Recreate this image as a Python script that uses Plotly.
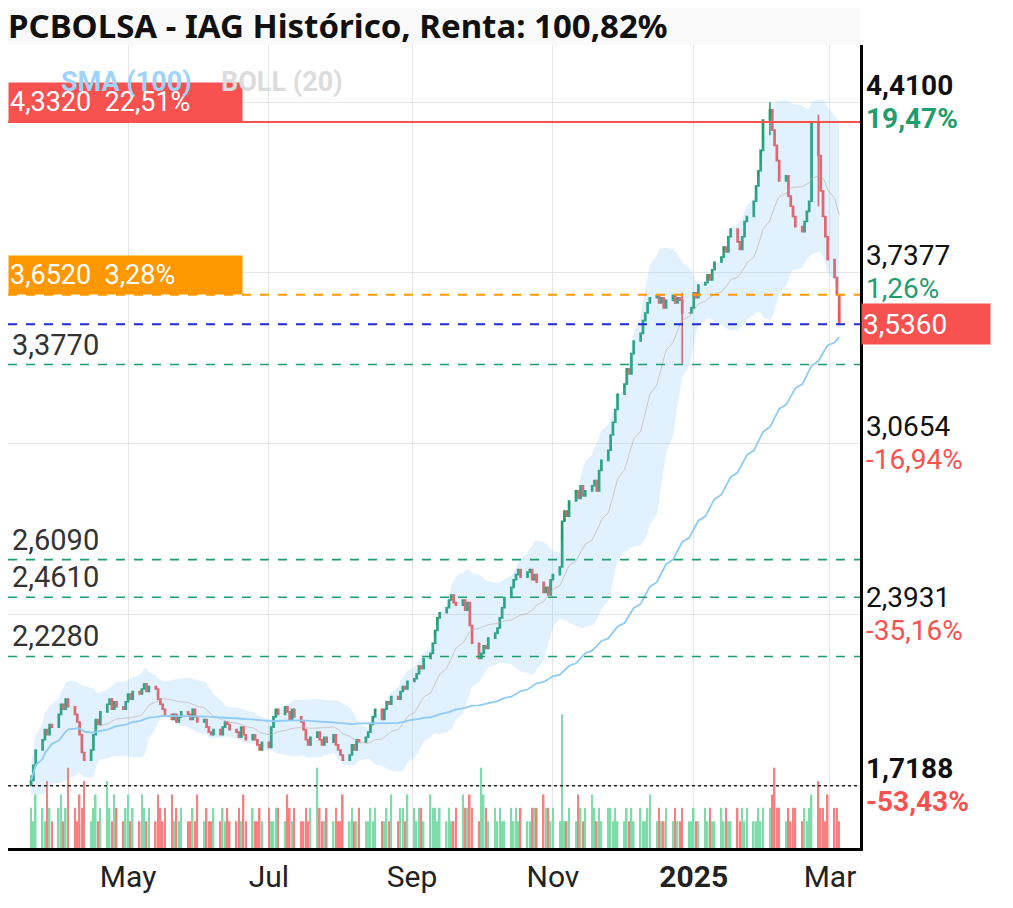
import pandas as pd
import plotly.graph_objects as go

# closes, one row per week (first row: Mar 20-22 2024)
closes = [
    1.74, 1.80, 1.86,
    1.90, 1.94, 1.92, 1.96, 1.95,
    2.00, 2.04, 2.02, 2.06, 2.03,
    2.00, 1.97, 1.92, 1.85, 1.82,
    1.86, 1.92, 1.98, 1.96, 2.01,
    2.04, 2.06, 2.02, 2.05, 2.03,
    2.02, 2.05, 2.08, 2.06, 2.09,
    2.08, 2.10, 2.12, 2.09, 2.11,
    2.10, 2.06, 2.04, 2.02, 2.00,
    1.98, 2.00, 1.97, 1.99, 2.01,
    2.00, 1.98, 2.02, 1.99, 1.97,
    1.98, 1.95, 1.93, 1.92, 1.94,
    1.92, 1.95, 1.97, 1.96, 1.94,
    1.93, 1.91, 1.95, 1.92, 1.90,
    1.92, 1.90, 1.88, 1.86, 1.89,
    1.87, 1.95, 1.99, 2.02, 2.00,
    2.03, 2.01, 1.98, 2.02, 1.99,
    1.97, 1.94, 1.90, 1.88, 1.91,
    1.93, 1.90, 1.88, 1.91, 1.89,
    1.92, 1.88, 1.86, 1.84, 1.82,
    1.84, 1.88, 1.86, 1.90, 1.89,
    1.91, 1.93, 1.96, 1.99, 2.02,
    1.98, 2.02, 2.05, 2.04, 2.07,
    2.06, 2.09, 2.11, 2.10, 2.13,
    2.14, 2.16, 2.19, 2.18, 2.22,
    2.24, 2.28, 2.33, 2.38, 2.40,
    2.42, 2.45, 2.47, 2.44, 2.43,
    2.45, 2.41, 2.44, 2.35, 2.28,
    2.22, 2.24, 2.27, 2.26, 2.30,
    2.32, 2.34, 2.38, 2.42, 2.46,
    2.50, 2.53, 2.55, 2.57, 2.54,
    2.56, 2.57, 2.53, 2.55, 2.52,
    2.48, 2.50, 2.47, 2.53, 2.55,
    2.58, 2.76, 2.80, 2.78, 2.84,
    2.88, 2.85, 2.90, 2.86, 2.88,
    2.90, 2.92, 2.88, 2.96, 3.00,
    3.04, 3.10, 3.15, 3.20, 3.26,
    3.30, 3.36, 3.34, 3.42, 3.47,
    3.50, 3.55, 3.58, 3.62, 3.64,
    3.65, 3.62, 3.64, 3.60, 3.63,
    3.65, 3.62, 3.64, 3.63, 3.58,
    3.58, 3.60, 3.66, 3.64, 3.69,
    3.70, 3.73, 3.71, 3.75, 3.78,
    3.80, 3.84, 3.82, 3.88, 3.91,
    3.86, 3.83, 3.88, 3.94, 3.96,
    4.02, 4.08, 4.14, 4.22, 4.34,
    4.38, 4.30, 4.24, 4.18, 4.10,
    4.12, 4.04, 4.00, 3.96, 3.92,
    3.90, 3.94, 3.98, 4.02, 4.33,
    4.20, 4.06, 3.96, 3.88, 3.79,
    3.72, 3.652, 3.536,
]
first_open = 1.72
# hand-read wicks: index -> (high, low)
wicks = {0: (1.76, 1.7188), 202: (3.66, 3.377), 228: (4.41, 4.28), 243: (4.36, 4.00)}

volumes = [
    3, 2, 4, 3, 2, 5, 3, 2, 3, 4, 2, 3, 6, 3, 2, 4, 3, 5, 2, 3,
    4, 2, 3, 5, 3, 2, 4, 3, 2, 3, 4, 2, 3, 2, 4, 3, 2, 3, 2, 4,
    3, 2, 3, 4, 2, 3, 2, 3, 2, 2, 3, 2, 4, 2, 3, 2, 2, 3, 2, 3,
    2, 3, 2, 2, 3, 2, 4, 2, 3, 2, 2, 3, 2, 3, 2, 2, 3, 3, 2, 4,
    3, 2, 3, 2, 2, 3, 2, 3, 6, 3, 2, 2, 3, 2, 3, 2, 2, 4, 2, 3,
    2, 2, 3, 2, 2, 3, 2, 3, 2, 2, 3, 2, 4, 2, 3, 3, 2, 4, 3, 2,
    3, 3, 2, 4, 3, 3, 2, 3, 2, 3, 2, 2, 3, 4, 3, 3, 4, 3, 2, 6,
    4, 3, 2, 3, 2, 3, 2, 2, 3, 2, 3, 2, 3, 2, 2, 3, 3, 3, 4, 3,
    3, 2, 3, 2, 10, 2, 2, 3, 2, 4, 3, 2, 3, 4, 3, 2, 3, 2, 3, 3,
    2, 3, 2, 2, 3, 2, 3, 2, 3, 2, 2, 3, 4, 2, 3, 2, 2, 3, 2, 3,
    2, 2, 3, 2, 2, 3, 2, 2, 3, 2, 3, 2, 2, 3, 2, 3, 2, 2, 3, 2,
    3, 2, 3, 2, 2, 3, 2, 3, 3, 4, 6, 3, 3, 2, 3, 2, 3, 3, 2, 3,
    2, 3, 4, 5, 3, 3, 2, 4, 3, 3, 2,
]

dates = pd.bdate_range("2024-03-20", periods=len(closes))
df = pd.DataFrame({"date": dates, "close": closes})
df["open"] = df["close"].shift(1).fillna(first_open)
df["high"] = df[["open", "close"]].max(axis=1)
df["low"] = df[["open", "close"]].min(axis=1)
for i, (h, l) in wicks.items():
    df.loc[i, "high"] = h
    df.loc[i, "low"] = l
df["vol"] = volumes[:len(df)]

df["sma100"] = df["close"].rolling(100, min_periods=1).mean()
mid = df["close"].rolling(20, min_periods=1).mean()
sd = df["close"].rolling(20, min_periods=2).std().fillna(0.03)
df["bb_mid"], df["bb_up"], df["bb_lo"] = mid, mid + 2 * sd, mid - 2 * sd

GREEN, RED = "#1f9d6c", "#f7524f"
FS = 30
vol_colors = ["#7fdcaa" if c >= o else "#f88080" for o, c in zip(df["open"], df["close"])]

fig = go.Figure()
fig.add_trace(go.Bar(x=df["date"], y=df["vol"], marker_color=vol_colors, marker_line_width=0,
                     yaxis="y2", showlegend=False))
fig.add_trace(go.Scatter(x=df["date"], y=df["bb_up"], mode="lines", line=dict(width=0),
                         showlegend=False, hoverinfo="skip"))
fig.add_trace(go.Scatter(x=df["date"], y=df["bb_lo"], mode="lines", line=dict(width=0),
                         fill="tonexty", fillcolor="rgba(120,190,245,0.22)", showlegend=False, hoverinfo="skip"))
fig.add_trace(go.Scatter(x=df["date"], y=df["bb_mid"], mode="lines",
                         line=dict(color="rgba(190,170,160,0.6)", width=1), showlegend=False))
fig.add_trace(go.Scatter(x=df["date"], y=df["sma100"], mode="lines",
                         line=dict(color="#8ecbf5", width=1.8), showlegend=False))

levels = [(4.332, RED, "solid", 2), (3.652, "#ff9800", "dash", 2), (3.536, "#1f2ad8", "dash", 2),
          (3.377, GREEN, "dash", 1.6), (2.609, GREEN, "dash", 1.6), (2.461, GREEN, "dash", 1.6),
          (2.228, GREEN, "dash", 1.6), (1.7188, "#222222", "dot", 1.6)]
for val, col, dash, w in levels:
    fig.add_shape(type="line", xref="paper", x0=0, x1=1, y0=val, y1=val,
                  line=dict(color=col, dash=dash, width=w))

fig.add_trace(go.Candlestick(x=df["date"], open=df["open"], high=df["high"], low=df["low"],
                             close=df["close"], showlegend=False,
                             increasing=dict(line=dict(color=GREEN, width=1.6), fillcolor=GREEN),
                             decreasing=dict(line=dict(color=RED, width=1.6), fillcolor=RED)))

tick_vals = [4.41, 3.7377, 3.0654, 2.3931, 1.7188]
right_vals = ["<b>4,4100</b>", "3,7377", "3,0654", "2,3931", "<b>1,7188</b>"]
right_pcts = ["<b>19,47%</b>", "1,26%", "-16,94%", "-35,16%", "<b>-53,43%</b>"]
pct_cols = [GREEN, GREEN, RED, RED, RED]
for v, t, p, c in zip(tick_vals, right_vals, right_pcts, pct_cols):
    fig.add_annotation(x=1.0, xref="paper", y=v, yref="y", text=t, showarrow=False,
                       xanchor="left", xshift=4, yshift=17, font=dict(size=FS - 2, color="#111"))
    fig.add_annotation(x=1.0, xref="paper", y=v, yref="y", text=p, showarrow=False,
                       xanchor="left", xshift=4, yshift=-16, font=dict(size=FS - 2, color=c))
fig.add_annotation(x=1.0, xref="paper", y=3.536, yref="y", text="3,5360", showarrow=False,
                   xanchor="left", xshift=1, bgcolor=RED, width=126, height=38, align="left",
                   font=dict(size=FS - 2, color="white"))
fig.add_annotation(x=0, xref="paper", y=4.332, yref="y", text="4,3320  22,51%", showarrow=False,
                   xanchor="left", yanchor="bottom", bgcolor=RED, width=231, height=36, align="left",
                   font=dict(size=FS - 3, color="white"))
fig.add_annotation(x=0, xref="paper", y=3.652, yref="y", text="3,6520  3,28%", showarrow=False,
                   xanchor="left", yanchor="bottom", bgcolor="#ff9800", width=231, height=36, align="left",
                   font=dict(size=FS - 3, color="white"))
for v, t in [(3.377, "3,3770"), (2.609, "2,6090"), (2.461, "2,4610"), (2.228, "2,2280")]:
    fig.add_annotation(x=0, xref="paper", y=v, yref="y", text=t, showarrow=False, xanchor="left",
                       yanchor="bottom", xshift=2, yshift=1, font=dict(size=FS - 1, color="#333"))
fig.add_annotation(x=0.06, xref="paper", y=0.976, yref="paper", text="<b>SMA (100)</b>", showarrow=False,
                   xanchor="left", font=dict(size=FS - 3, color="#9fd3f7"))
fig.add_annotation(x=0.248, xref="paper", y=0.976, yref="paper", text="<b>BOLL (20)</b>", showarrow=False,
                   xanchor="left", font=dict(size=FS - 3, color="#dcdcdc"))

fig.add_shape(type="rect", xref="paper", yref="paper", x0=0, x1=1.0, y0=1.0, y1=1.046,
              fillcolor="#fafafa", line_width=0, layer="below")
fig.add_annotation(x=0, xref="paper", y=1.024, yref="paper", text="<b>PCBOLSA - IAG Histórico, Renta: 100,82%</b>",
                   showarrow=False, xanchor="left", yanchor="middle", xshift=-2,
                   font=dict(size=33, family="Noto Sans", color="#111"))

fig.update_layout(
    width=1005, height=900, margin=dict(l=0, r=153, t=37, b=60),
    paper_bgcolor="white", plot_bgcolor="white", font=dict(family="Roboto", color="#222"),
    bargap=0.3, hovermode=False,
    xaxis=dict(range=["2024-03-10", "2025-03-14"], rangeslider=dict(visible=False),
               tickvals=["2024-03-01", "2024-05-01", "2024-07-01", "2024-09-01", "2024-11-01", "2025-01-01", "2025-03-01"],
               ticktext=["Mar", "May", "Jul", "Sep", "Nov", "<b>2025</b>", "Mar"],
               tickfont=dict(size=FS, color="#222"), showgrid=True, gridcolor="#e6e6e6",
               showline=True, linecolor="black", linewidth=3, ticks=""),
    yaxis=dict(range=[1.474, 4.635], side="right", tickvals=tick_vals, showticklabels=False,
               showgrid=True, gridcolor="#e6e6e6", showline=True, linecolor="black", linewidth=3,
               zeroline=False),
    yaxis2=dict(overlaying="y", range=[0, 60], visible=False),
)
fig.write_html("out.html")
